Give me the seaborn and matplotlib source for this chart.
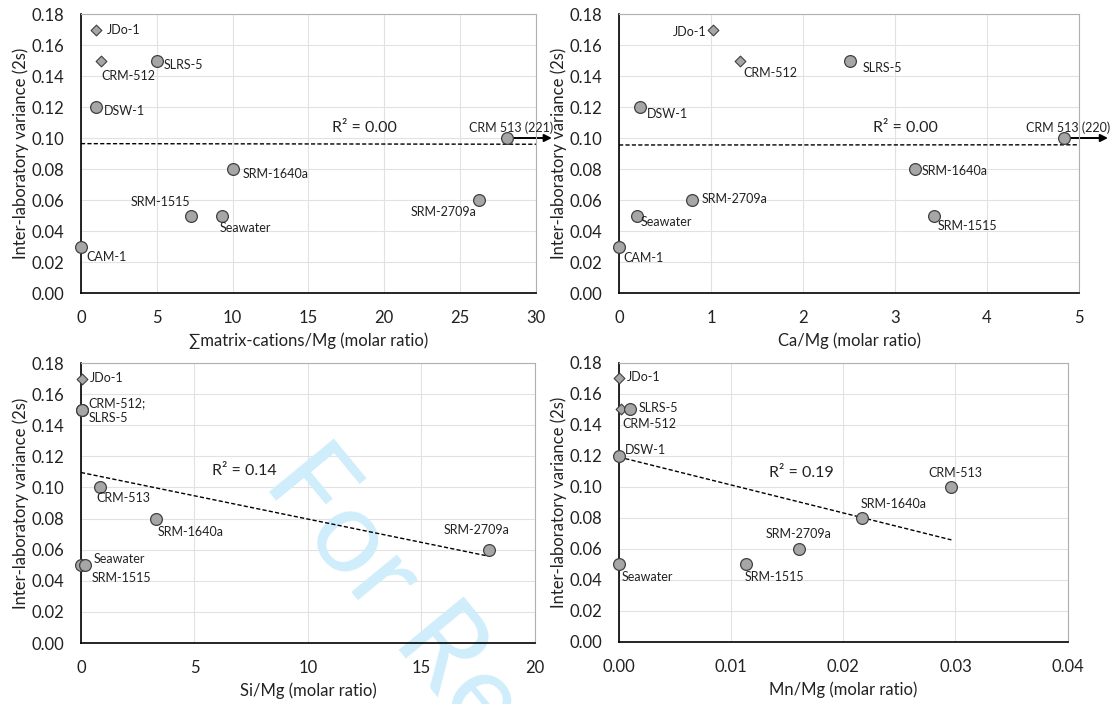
import numpy as np
import pandas as pd
import matplotlib.pyplot as plt
import seaborn as sns

# --- data ---------------------------------------------------------------
y_label = 'Inter-laboratory variance (2s)'

# panel a: sum of matrix cations / Mg
cat_names = ['JDo-1', 'CRM-512', 'SLRS-5', 'DSW-1', 'CRM 513 (221)', 'SRM-1640a',
             'SRM-1515', 'Seawater', 'SRM-2709a', 'CAM-1']
cat_x = [0.97, 1.35, 5.0, 0.97, 221, 10.05, 7.25, 9.32, 26.25, 0.0]
cat_var = [0.17, 0.15, 0.15, 0.12, 0.10, 0.08, 0.05, 0.05, 0.06, 0.03]
cat_shape = ['D', 'D', 'o', 'o', 'o', 'o', 'o', 'o', 'o', 'o']

# panel b: Ca/Mg
ca_names = ['JDo-1', 'CRM-512', 'SLRS-5', 'DSW-1', 'CRM 513 (220)', 'SRM-1640a',
            'SRM-2709a', 'Seawater', 'SRM-1515', 'CAM-1']
ca_x = [1.02, 1.32, 2.51, 0.23, 220, 3.22, 0.79, 0.19, 3.42, 0.0]
ca_var = [0.17, 0.15, 0.15, 0.12, 0.10, 0.08, 0.06, 0.05, 0.05, 0.03]
ca_shape = ['D', 'D', 'o', 'o', 'o', 'o', 'o', 'o', 'o', 'o']

# panel c: Si/Mg (CRM-512 and SLRS-5 share one spot and one label)
si_names = ['JDo-1', '', 'CRM-512;\nSLRS-5', 'CRM-513', 'SRM-1640a',
            'Seawater', 'SRM-1515', 'SRM-2709a']
si_x = [0.03, 0.05, 0.05, 0.85, 3.30, 0.0, 0.16, 17.96]
si_var = [0.17, 0.15, 0.15, 0.10, 0.08, 0.05, 0.05, 0.06]
si_shape = ['D', 'o', 'o', 'o', 'o', 'o', 'o', 'o']

# panel d: Mn/Mg
mn_names = ['JDo-1', 'CRM-512', 'SLRS-5', 'DSW-1', 'Seawater', 'SRM-1515',
            'SRM-2709a', 'SRM-1640a', 'CRM-513']
mn_x = [0.0, 0.00013, 0.00099, 0.0, 0.0, 0.01135, 0.01603, 0.02164, 0.02964]
mn_var = [0.17, 0.15, 0.15, 0.12, 0.05, 0.05, 0.06, 0.08, 0.10]
mn_shape = ['D', 'D', 'o', 'o', 'o', 'o', 'o', 'o', 'o']

# --- layout: label offsets in points (dx, dy, ha) ------------------------
cat_off = [(7.7, 0, 'left'), (0, -11, 'left'), (4.9, -3.1, 'left'), (5.7, -3.1, 'left'),
           (2.6, 7.2, 'center'), (6.9, -3.6, 'left'), (-0.5, 9.4, 'right'),
           (-1.8, -8.9, 'left'), (-1.5, -8.4, 'right'), (4.1, -7.2, 'left')]
ca_off = [(-4.6, -1.7, 'right'), (2.3, -9.1, 'left'), (9, -5.5, 'left'), (5.1, -5.3, 'left'),
          (3.1, 7.2, 'center'), (4.4, -1.2, 'left'), (7.2, 0.5, 'left'),
          (2.8, -5, 'left'), (2.8, -7.9, 'left'), (3.3, -8.6, 'left')]
si_off = [(6.2, 0.5, 'left'), (0, 0, 'left'), (4.6, -0.7, 'left'), (-2.6, -7.7, 'left'),
          (1.3, -9.8, 'left'), (9.3, 4.6, 'left'), (5.1, -8.9, 'left'), (-8.5, 14.4, 'center')]
mn_off = [(5.9, 1, 'left'), (1, -10.1, 'left'), (6.2, 1, 'left'), (3.9, 4.3, 'left'),
          (2.1, -8.9, 'left'), (-1, -8.9, 'left'), (0, 10.6, 'center'),
          (-1, 10.3, 'left'), (3.1, 10.1, 'center')]

sns.set_theme(style='whitegrid')
plt.rcParams['font.family'] = ['Lato', 'DejaVu Sans']
plt.rcParams['axes.axisbelow'] = True

TXT = '#222222'
fig = plt.figure(figsize=(11.14, 7.04), dpi=100)


def draw_panel(rect, names, x, y, shapes, offsets, xmax, xstep, xfmt, xlabel,
               r2_xy, offscale_at=None, arrow_to=None):
    ax = fig.add_axes(rect)
    x = np.asarray(x, dtype=float)
    y = np.asarray(y, dtype=float)

    # regression on the true values (Excel style linear trendline)
    slope, icpt = np.polyfit(x, y, 1)
    r2 = np.corrcoef(x, y)[0, 1] ** 2
    x0, x1 = x.min(), min(x.max(), xmax)
    xl = np.array([x0, x1])
    ax.plot(xl, icpt + slope * xl, color='black', lw=1.0,
            linestyle=(0, (3, 1.6)), zorder=2)
    ax.text(r2_xy[0], r2_xy[1], f'R² = {r2:.2f}', fontsize=11.5, color=TXT,
            ha='center', va='center')

    # off-scale point is parked at the axis edge with an arrow
    xd = x.copy()
    if offscale_at is not None:
        big = x > xmax
        xd[big] = offscale_at
        for yy in y[big]:
            ax.annotate('', xy=(arrow_to, yy), xycoords=('axes fraction', 'data'),
                        xytext=(offscale_at, yy), textcoords='data',
                        arrowprops=dict(arrowstyle='-|>', color='black', lw=1.4,
                                        shrinkA=0, shrinkB=0, mutation_scale=11),
                        annotation_clip=False, zorder=2.5)

    df = pd.DataFrame({'x': xd, 'y': y, 'shape': shapes})
    sns.scatterplot(data=df[df['shape'] == 'D'], x='x', y='y', marker='D', s=30,
                    color='#a6a6a6', edgecolor='#404040', linewidth=0.8,
                    ax=ax, clip_on=False, zorder=3, legend=False)
    sns.scatterplot(data=df[df['shape'] == 'o'], x='x', y='y', marker='o', s=72,
                    color='#a6a6a6', edgecolor='#404040', linewidth=0.9,
                    ax=ax, clip_on=False, zorder=3, legend=False)

    for name, xx, yy, (dx, dy, ha) in zip(names, xd, y, offsets):
        if not name:
            continue
        ax.annotate(name, (xx, yy), xytext=(dx, dy), textcoords='offset points',
                    ha=ha, va='center', fontsize=9, color=TXT,
                    linespacing=1.3, annotation_clip=False, zorder=4)

    ax.set_xlim(0, xmax)
    ax.set_ylim(0, 0.18)
    ax.set_xticks(np.arange(0, xmax + xstep / 2, xstep))
    ax.set_yticks(np.arange(0, 0.181, 0.02))
    ax.set_xticklabels([xfmt.format(v) for v in ax.get_xticks()])
    ax.set_yticklabels([f'{v:.2f}' for v in ax.get_yticks()])
    ax.tick_params(axis='y', length=0, pad=12, labelsize=12, labelcolor=TXT)
    ax.tick_params(axis='x', length=0, pad=12, labelsize=12, labelcolor=TXT)
    ax.grid(True, color='#e2e2e2', lw=0.8)
    ax.set_xlabel(xlabel, fontsize=12, color=TXT, labelpad=5)
    ax.set_ylabel(y_label, fontsize=12, color=TXT, labelpad=2)
    for side in ['left', 'bottom']:
        ax.spines[side].set_color('black')
        ax.spines[side].set_linewidth(1.2)
    for side in ['top', 'right']:
        ax.spines[side].set_color('#b0b0b0')
        ax.spines[side].set_linewidth(0.8)
    return ax


ax1 = draw_panel([0.0727, 0.5838, 0.4084, 0.3963], cat_names, cat_x, cat_var, cat_shape,
                 cat_off, 30, 5, '{:.0f}', '∑matrix-cations/Mg (molar ratio)',
                 (18.7, 0.1063), offscale_at=28.1, arrow_to=1.035)
ax2 = draw_panel([0.5557, 0.5838, 0.4129, 0.3963], ca_names, ca_x, ca_var, ca_shape,
                 ca_off, 5, 1, '{:.0f}', 'Ca/Mg (molar ratio)',
                 (3.11, 0.1063), offscale_at=4.84, arrow_to=1.063)
ax3 = draw_panel([0.0727, 0.0866, 0.4075, 0.3977], si_names, si_x, si_var, si_shape,
                 si_off, 20, 5, '{:.0f}', 'Si/Mg (molar ratio)', (7.22, 0.1108))
ax4 = draw_panel([0.5557, 0.0881, 0.4026, 0.3963], mn_names, mn_x, mn_var, mn_shape,
                 mn_off, 0.04, 0.01, '{:.2f}', 'Mn/Mg (molar ratio)', (0.01625, 0.109))

# review watermark running off the bottom of the page
ax3.text(0.235, 0.314, 'For Review Only', transform=fig.transFigure,
         rotation=-50.6, rotation_mode='anchor', ha='left', va='baseline',
         fontsize=84, color='#cfedfb', clip_on=False, zorder=1)

fig.savefig('out.png', dpi=100)
